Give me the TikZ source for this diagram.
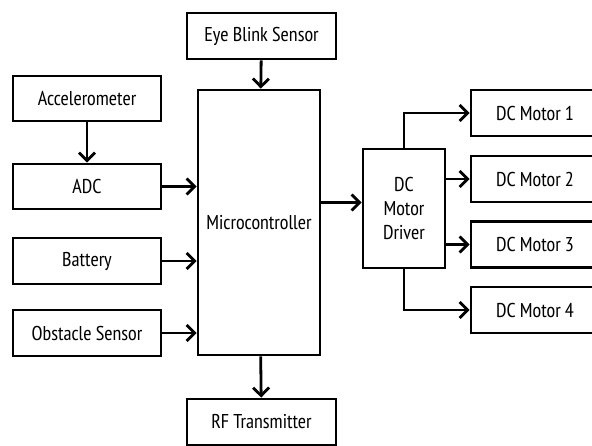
\documentclass[tikz,border=0pt]{standalone}
\usepackage{fontspec}
\setmainfont{PT Sans Narrow}
\usetikzlibrary{arrows.meta, positioning, calc}

\begin{document}
\begin{tikzpicture}[
        x=1pt, y=-1pt,
        block/.style={rectangle, draw, line width=2.8pt, inner sep=2pt, font=\fontsize{20}{24}\selectfont, align=center},
        arr/.style={-{Straight Barb[length=8pt, width=16pt, line width=2.8pt]}, line width=2.8pt}
    ]
        \clip (0,0) rectangle (592,445);

        % Inputs
        \node[block, minimum width=149pt, minimum height=46pt] (eye) at (261.5,36) {Eye Blink Sensor};
        \node[block, minimum width=148pt, minimum height=45pt] (acc) at (87,98.5) {Accelerometer};
        \node[block, minimum width=148pt, minimum height=45pt] (adc) at (87,186.5) {ADC};
        \node[block, minimum width=148pt, minimum height=46pt] (bat) at (87,261) {Battery};
        \node[block, minimum width=148pt, minimum height=46pt] (obs) at (87,333) {Obstacle Sensor};

        % Controller
        \node[block, minimum width=122pt, minimum height=265pt] (mc) at (259,222.5) {Microcontroller};
        \node[block, minimum width=149pt, minimum height=46pt] (rf) at (261.5,422) {RF Transmitter};

        % Driver and motors
        \node[block, minimum width=82pt, minimum height=119pt] (drv) at (404,208.5) {DC\\Motor\\Driver};
        \node[block, minimum width=128pt, minimum height=46pt] (m1) at (535,113) {DC Motor 1};
        \node[block, minimum width=128pt, minimum height=46pt] (m2) at (535,179) {DC Motor 2};
        \node[block, minimum width=128pt, minimum height=46pt] (m3) at (535,244.5) {DC Motor 3};
        \node[block, minimum width=128pt, minimum height=46pt] (m4) at (535,310) {DC Motor 4};

        % Arrows into controller
        \draw[arr] (eye) -- (mc);
        \draw[arr] (acc) -- (adc);
        \draw[arr] (adc.east) -- (adc.east -| mc.west);
        \draw[arr] (bat.east) -- (bat.east -| mc.west);
        \draw[arr] (obs.east) -- (obs.east -| mc.west);
        \draw[arr] (mc) -- (rf);

        % Arrows to motors
        \draw[arr] ([yshift=6pt]drv.west -| mc.east) -- ([yshift=6pt]drv.west);
        \draw[arr] (drv.north) |- (m1.west);
        \draw[arr] (m2.west -| drv.east) -- (m2.west);
        \draw[arr] (m3.west -| drv.east) -- (m3.west);
        \draw[arr] (drv.south) |- (m4.west);
    \end{tikzpicture}
\end{document}
